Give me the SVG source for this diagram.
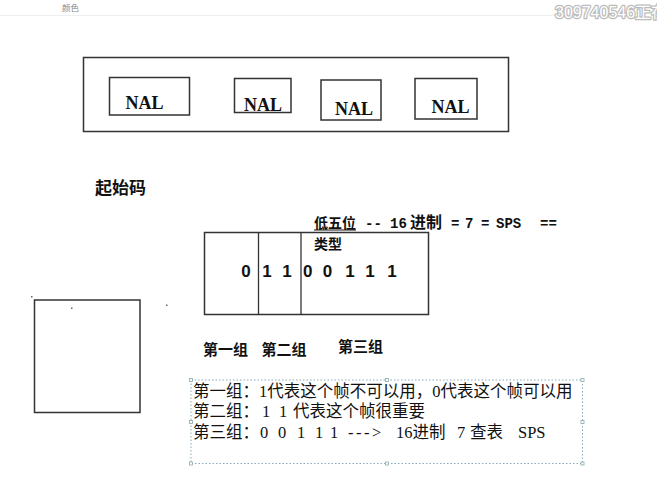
<svg xmlns="http://www.w3.org/2000/svg" width="657" height="479" viewBox="0 0 657 479">
<style>
.box{fill:none;stroke:#333;stroke-width:1.5}
.nal{font-family:"Liberation Serif",serif;font-weight:bold;font-size:18px;fill:#111}
.hd{font-family:"Noto Sans CJK SC",sans-serif;font-weight:bold;fill:#111}
.mono{font-family:"Liberation Mono","Noto Sans CJK SC",monospace;font-weight:bold;font-size:14px;fill:#111}
.dig{font-family:"Liberation Sans",sans-serif;font-weight:bold;font-size:17px;fill:#111;text-anchor:middle}
.note{font-family:"Liberation Serif","Noto Sans CJK SC",serif;font-size:16.5px;fill:#111}
.h{fill:#fff;stroke:#8aa;stroke-width:0.8}
</style>
<rect width="657" height="479" fill="#fff"/>
<g id="topbar">
<line x1="0" y1="15.5" x2="557" y2="15.5" stroke="#eee" stroke-width="1"/>
<text x="62" y="11" font-family="Noto Sans CJK SC,sans-serif" font-size="8.5" fill="#888">颜色</text>
<text x="555" y="18" font-family="Liberation Sans,Noto Sans CJK SC,sans-serif" font-size="16" fill="#fff" stroke="#bbb" stroke-width="2.5" stroke-linejoin="round">309740546正在</text>
<text x="555" y="18" font-family="Liberation Sans,Noto Sans CJK SC,sans-serif" font-size="16" fill="#fff">309740546正在</text>
</g>
<g id="outer"><rect class="box" x="83.5" y="57.5" width="425" height="74"/></g>
<g id="nal1"><rect class="box" x="109.5" y="77.5" width="80" height="37.5"/><text class="nal" x="125.5" y="109">NAL</text></g>
<g id="nal2"><rect class="box" x="234.5" y="78.5" width="56.5" height="34"/><text class="nal" x="244" y="111">NAL</text></g>
<g id="nal3"><rect class="box" x="321" y="80" width="60" height="40"/><text class="nal" x="335" y="115">NAL</text></g>
<g id="nal4"><rect class="box" x="415" y="78.5" width="62" height="40.5"/><text class="nal" x="431.5" y="113">NAL</text></g>
<g id="startcode"><text class="hd" x="95" y="194" font-size="17">起始码</text></g>
<g id="low5">
<text class="mono" y="228"><tspan x="314" font-family="Noto Sans CJK SC">低五位</tspan><tspan x="365">--</tspan><tspan x="390">16</tspan><tspan x="410" font-family="Noto Sans CJK SC" font-size="16">进制</tspan><tspan x="451">=</tspan><tspan x="465">7</tspan><tspan x="481">=</tspan><tspan x="496">SPS</tspan><tspan x="540">==</tspan></text>
<line x1="314" y1="230" x2="356" y2="230" stroke="#111" stroke-width="1"/>
<text class="hd" x="314" y="249" font-size="14">类型</text>
</g>
<g id="bits">
<rect class="box" x="204.5" y="232.5" width="224" height="82"/>
<line x1="258.5" y1="232.5" x2="258.5" y2="314.5" stroke="#333" stroke-width="1.3"/>
<line x1="301" y1="232.5" x2="301" y2="314.5" stroke="#333" stroke-width="1.3"/>
<text class="dig" x="246" y="277">0</text>
<text class="dig" x="267" y="277">1</text>
<text class="dig" x="287" y="277">1</text>
<text class="dig" x="307.7" y="277">0</text>
<text class="dig" x="327.5" y="277">0</text>
<text class="dig" x="350" y="277">1</text>
<text class="dig" x="370" y="277">1</text>
<text class="dig" x="392" y="277">1</text>
</g>
<g id="groups">
<text class="hd" x="203" y="355" font-size="15">第一组</text>
<text class="hd" x="261.5" y="355" font-size="15">第二组</text>
<text class="hd" x="338" y="351.5" font-size="15">第三组</text>
</g>
<g id="leftbox">
<rect class="box" x="34.5" y="300" width="105.5" height="112.5"/>
<rect x="31" y="296" width="1.5" height="1.5" fill="#666"/>
<rect x="71" y="307.5" width="1.5" height="1.5" fill="#666"/>
<rect x="166" y="304.5" width="1.5" height="1.5" fill="#666"/>
</g>
<g id="notes">
<rect x="191" y="380" width="391.5" height="83.5" fill="none" stroke="#8ab" stroke-width="1" stroke-dasharray="1.5,2"/>
<rect class="h" x="189.5" y="378.5" width="3" height="3"/>
<rect class="h" x="385.5" y="378.5" width="3" height="3"/>
<rect class="h" x="581" y="378.5" width="3" height="3"/>
<rect class="h" x="189.5" y="420.5" width="3" height="3"/>
<rect class="h" x="581" y="420.5" width="3" height="3"/>
<rect class="h" x="189.5" y="462" width="3" height="3"/>
<rect class="h" x="385.5" y="462" width="3" height="3"/>
<rect class="h" x="581" y="462" width="3" height="3"/>
<text class="note" x="193" y="397">第一组：1代表这个帧不可以用，0代表这个帧可以用</text>
<text class="note" y="417"><tspan x="193">第二组：</tspan><tspan x="262">1</tspan><tspan x="279">1</tspan><tspan x="293">代表这个帧很重要</tspan></text>
<text class="note" y="438"><tspan x="193">第三组：</tspan><tspan x="260">0</tspan><tspan x="278">0</tspan><tspan x="297">1</tspan><tspan x="315">1</tspan><tspan x="330">1</tspan><tspan x="348" letter-spacing="2.5">---&gt;</tspan><tspan x="396">16进制</tspan><tspan x="457">7</tspan><tspan x="470">查表</tspan><tspan x="518">SPS</tspan></text>
</g>
</svg>
